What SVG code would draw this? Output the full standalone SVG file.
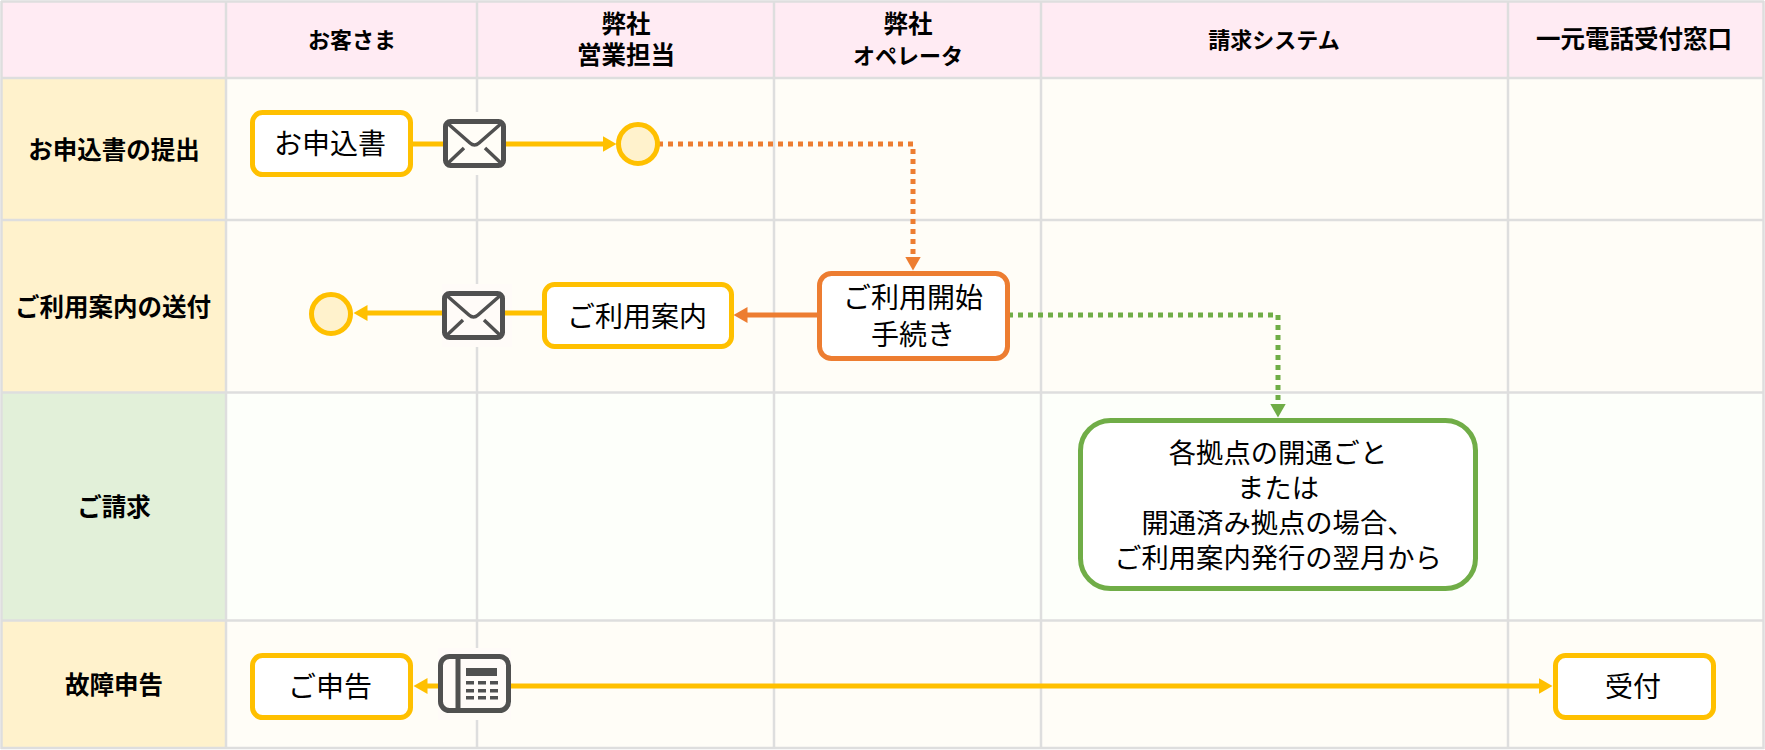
<svg xmlns="http://www.w3.org/2000/svg" width="1765" height="750" viewBox="0 0 1765 750">
<style>
text{font-family:"Noto Sans CJK JP","Noto Sans",sans-serif;fill:#000;text-anchor:middle}
.h{font-size:24.500px;font-weight:700}
.k{font-size:22px}
.b{font-size:28px;font-weight:400}
.l{font-size:27.300px}
.g{stroke:#DEDEDE;stroke-width:2.500;fill:none}
.n{fill:#fff;stroke-width:5}
.y{stroke:#FFC000}.o{stroke:#ED7D31}.gr{stroke:#70AD47}
.c{fill:none;stroke-width:5}
.d{stroke-dasharray:5 5}
.e{fill:#FFF2CC;stroke-width:5}
.ic{fill:none;stroke:#505050;stroke-width:5;stroke-linejoin:round}
.th{stroke-width:3.500}
.icf{fill:#505050}
.kn{fill:#FFFBF8}
</style>
<defs>
<marker id="ay" markerUnits="userSpaceOnUse" markerWidth="15" markerHeight="16" refX="0.500" refY="8" orient="auto"><path d="M0 0L14 8L0 16Z" fill="#FFC000"/></marker>
<marker id="ao" markerUnits="userSpaceOnUse" markerWidth="15" markerHeight="16" refX="0.500" refY="8" orient="auto"><path d="M0 0L14 8L0 16Z" fill="#ED7D31"/></marker>
<marker id="ag" markerUnits="userSpaceOnUse" markerWidth="15" markerHeight="16" refX="0.500" refY="8" orient="auto"><path d="M0 0L14 8L0 16Z" fill="#70AD47"/></marker>
</defs>
<g id="grid">
<rect width="1765" height="750" fill="#fff"/>
<rect x="1" y="1" width="1763" height="77" fill="#FFEBF3"/>
<rect x="1" y="78" width="225" height="142" fill="#FFF2CC"/>
<rect x="1" y="220" width="225" height="172" fill="#FFF2CC"/>
<rect x="1" y="392" width="225" height="228" fill="#E2F0D9"/>
<rect x="1" y="620" width="225" height="128" fill="#FFF2CC"/>
<rect x="226" y="78" width="1538" height="314" fill="#FFFDF7"/>
<rect x="226" y="392" width="1538" height="228" fill="#FDFFFA"/>
<rect x="226" y="620" width="1538" height="128" fill="#FFFDF7"/>
<path class="g" d="M1 1.500H1764M1 78H1764M1 220H1764M1 392.500H1764M1 620.500H1764M1 748H1764M1.500 1V749M226 1V749M477 1V749M774 1V749M1041 1V749M1508 1V749M1763.500 1V749"/>
<rect x="437" y="112" width="75" height="63" fill="#FFFDF7"/>
<rect class="kn" x="442" y="284" width="70" height="63"/>
<rect class="kn" x="438" y="648" width="73" height="72"/>
</g>
<g id="headers">
<text class="h k" x="352" y="48">お客さま</text>
<text class="h" x="626" y="33">弊社</text><text class="h" x="626" y="64">営業担当</text>
<text class="h" x="908" y="33">弊社</text><text class="h k" x="908" y="64">オペレータ</text>
<text class="h k" x="1274" y="48">請求システム</text>
<text class="h" x="1634" y="48">一元電話受付窓口</text>
<text class="h" x="114" y="159">お申込書の提出</text>
<text class="h" x="113" y="316">ご利用案内の送付</text>
<text class="h" x="114" y="516">ご請求</text>
<text class="h" x="114" y="694">故障申告</text>
</g>
<g id="connectors">
<path class="c y" d="M411 144H603" marker-end="url(#ay)"/>
<path class="c y" d="M544 313H367" marker-end="url(#ay)"/>
<path class="c o" d="M819 315H747" marker-end="url(#ao)"/>
<path class="c o d" d="M658 144H913V257" marker-end="url(#ao)"/>
<path class="c gr d" d="M1008 315H1278V404" marker-end="url(#ag)"/>
<path class="c y" d="M440 686H427" marker-end="url(#ay)"/>
<path class="c y" d="M510 686H1539" marker-end="url(#ay)"/>
</g>
<g id="n1"><rect class="n y" x="252.500" y="112.500" width="158" height="62" rx="10"/><text class="b" x="330" y="154">お申込書</text></g>
<g id="n2"><circle cx="638" cy="144" r="19.500" class="e y"/></g>
<g id="n3"><circle cx="331" cy="314" r="19.500" class="e y"/></g>
<g id="n4"><rect class="n y" x="544.500" y="284.500" width="187" height="62" rx="10"/><text class="b" x="637" y="327">ご利用案内</text></g>
<g id="n5"><rect class="n o" x="819.500" y="273.500" width="188" height="85" rx="12"/><text class="b" x="913" y="308">ご利用開始</text><text class="b" x="913" y="345">手続き</text></g>
<g id="n6"><rect class="n gr" x="1080.500" y="420.500" width="395" height="168" rx="30"/>
<text class="b l" x="1278" y="463">各拠点の開通ごと</text><text class="b l" x="1278" y="498">または</text><text class="b l" x="1278" y="533">開通済み拠点の場合、</text><text class="b l" x="1278" y="568">ご利用案内発行の翌月から</text></g>
<g id="n7"><rect class="n y" x="252.500" y="655.500" width="158" height="62" rx="10"/><text class="b" x="330" y="697">ご申告</text></g>
<g id="n8"><rect class="n y" x="1555.500" y="655.500" width="158" height="62" rx="10"/><text class="b" x="1633" y="697">受付</text></g>
<g id="mail1"><rect class="ic" x="445.500" y="121.500" width="58" height="44" rx="5" style="fill:#FFFDF7"/><path class="ic th" d="M446 122L470 143Q474.500 147 479 143L503 122M446 165L464 148M503 165L485 148"/></g>
<g id="mail2"><rect class="ic" x="444.500" y="293.500" width="58" height="44" rx="5" style="fill:#FFFBF8"/><path class="ic th" d="M445 294L469 315Q473.500 319 478 315L502 294M445 337L463 320M502 337L484 320"/></g>
<g id="phone"><rect class="ic" x="440.500" y="656.500" width="68" height="54" rx="9" style="fill:#FFFBF8"/><path class="ic" d="M458 656V711"/><rect class="icf" x="466" y="668" width="31" height="8"/>
<g class="icf"><rect x="466" y="681" width="8" height="3.500"/><rect x="478" y="681" width="8" height="3.500"/><rect x="490" y="681" width="8" height="3.500"/><rect x="466" y="689" width="8" height="3.500"/><rect x="478" y="689" width="8" height="3.500"/><rect x="490" y="689" width="8" height="3.500"/><rect x="466" y="696" width="8" height="3.500"/><rect x="478" y="696" width="8" height="3.500"/><rect x="490" y="696" width="8" height="3.500"/></g></g>
</svg>
